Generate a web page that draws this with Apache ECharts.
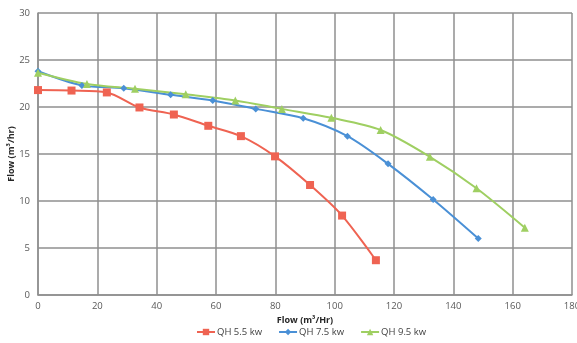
<!DOCTYPE html>
<html>
<head>
<meta charset="utf-8">
<script src="https://cdn.jsdelivr.net/npm/echarts@6/dist/echarts.min.js"></script>
<style>html,body{margin:0;padding:0;background:#fff}#c{width:577px;height:343px}</style>
</head>
<body>
<div id="c"></div>
<script>
const seriesNames = ['QH 5.5 kw', 'QH 7.5 kw', 'QH 9.5 kw'];
const qh55 = [[0,21.8],[11.3,21.75],[23.2,21.55],[34.2,19.95],[45.8,19.2],[57.4,18.0],[68.4,16.9],[79.9,14.75],[91.7,11.7],[102.5,8.45],[113.9,3.7]];
const qh75 = [[0,23.8],[14.8,22.3],[28.9,22.0],[44.7,21.3],[58.9,20.7],[73.4,19.8],[89.4,18.8],[104.3,16.9],[118.0,13.95],[133.2,10.15],[148.4,6.0]];
const qh95 = [[0,23.65],[16.5,22.45],[32.7,21.95],[49.8,21.35],[66.5,20.7],[82.2,19.8],[98.9,18.85],[115.5,17.55],[132.1,14.7],[147.8,11.35],[164.1,7.15]];
const xTicks = {min:0, max:180, interval:20};
const yTicks = {min:0, max:30, interval:5};

const font = 'Open Sans, sans-serif';
const gridLine = {show:true, lineStyle:{color:'#8f8f8f', width:1.5}};
const chart = echarts.init(document.getElementById('c'));
chart.setOption({
  animation:false,
  textStyle:{fontFamily:font},
  grid:{left:38, right:5, top:13, bottom:48, containLabel:false, outerBoundsMode:'none'},
  legend:{bottom:1, left:191, itemWidth:18, itemHeight:8, itemGap:16,
    textStyle:{fontSize:9.5, color:'#404040', fontFamily:font, padding:[0,0,0,-3]},
    data:seriesNames},
  xAxis:{type:'value', min:xTicks.min, max:xTicks.max, interval:xTicks.interval,
    name:'Flow (m³/Hr)', nameLocation:'middle', nameGap:19,
    nameTextStyle:{fontSize:9, fontWeight:'bold', color:'#262626', fontFamily:font},
    axisLine:{show:true, lineStyle:{color:'#8f8f8f', width:1.5}},
    axisTick:{show:false},
    axisLabel:{fontSize:9.5, color:'#595959', margin:6, fontFamily:font},
    splitLine:gridLine},
  yAxis:{type:'value', min:yTicks.min, max:yTicks.max, interval:yTicks.interval,
    name:'Flow (m³/hr)', nameLocation:'middle', nameGap:22, nameRotate:90, nameMoveOverlap:false,
    nameTextStyle:{fontSize:9, fontWeight:'bold', color:'#262626', fontFamily:font},
    axisLine:{show:true, lineStyle:{color:'#8f8f8f', width:1.5}},
    axisTick:{show:false},
    axisLabel:{fontSize:9.5, color:'#595959', margin:8, fontFamily:font},
    splitLine:gridLine},
  series:[
    {name:seriesNames[0], type:'line', data:qh55, smooth:0.3, symbol:'rect', symbolSize:8,
      lineStyle:{color:'#EF6352', width:2}, itemStyle:{color:'#EF6352'}},
    {name:seriesNames[1], type:'line', data:qh75, smooth:0.3, symbol:'diamond', symbolSize:7,
      lineStyle:{color:'#4A90D6', width:2}, itemStyle:{color:'#4A90D6'}},
    {name:seriesNames[2], type:'line', data:qh95, smooth:0.3, symbol:'triangle', symbolSize:8,
      lineStyle:{color:'#9FCF62', width:2}, itemStyle:{color:'#9FCF62'}}
  ]
});
</script>
</body>
</html>
